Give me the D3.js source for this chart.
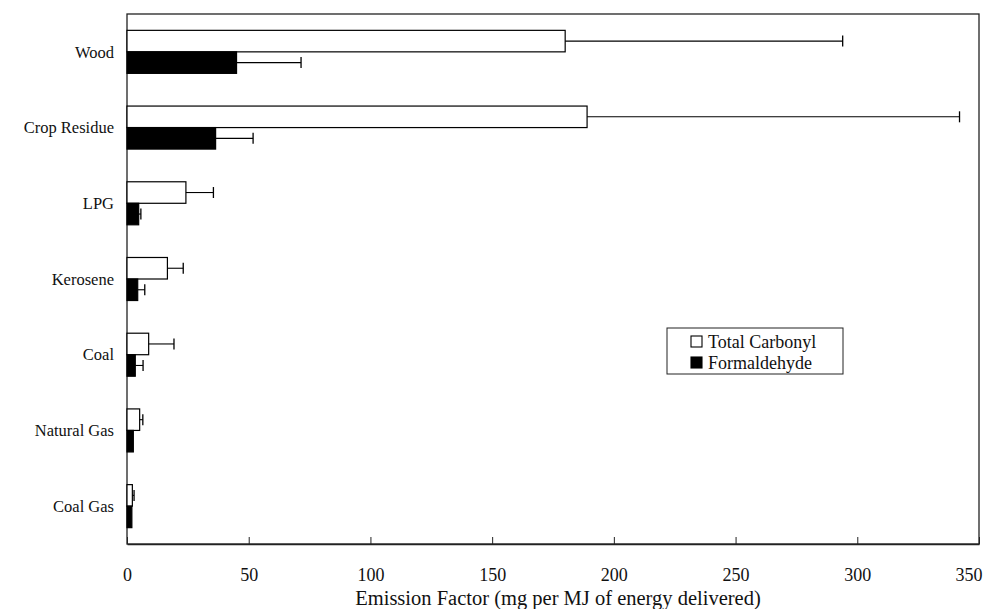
<!DOCTYPE html>
<html>
<head>
<meta charset="utf-8">
<script src="https://cdn.jsdelivr.net/npm/d3@7"></script>
<style>
  body { margin: 0; background: #fff; }
  text { font-family: "Liberation Serif", "Times New Roman", serif; fill: #111; }
</style>
</head>
<body>
<div id="chart"></div>
<script>
// data
const fuels = ["Wood", "Crop Residue", "LPG", "Kerosene", "Coal", "Natural Gas", "Coal Gas"];
const series = ["Total Carbonyl", "Formaldehyde"];
const totalCarbonyl = [180, 189, 24.2, 16.6, 8.9, 5.2, 2.2];
const totalCarbonylErr = [114, 153, 11.3, 6.5, 10.4, 1.3, 0.7];
const formaldehyde = [45, 36.4, 4.8, 4.4, 3.4, 2.6, 2.0];
const formaldehydeErr = [26.5, 15.4, 0.9, 2.9, 3.2, 0, 0];
const xTicks = [0, 50, 100, 150, 200, 250, 300, 350];

const W = 993, H = 609;
const margin = { top: 14, right: 14, bottom: 65, left: 127 };

const svg = d3.select("#chart").append("svg")
    .attr("width", W)
    .attr("height", H);

const x = d3.scaleLinear()
    .domain([0, 350])
    .range([margin.left, W - margin.right]);

const y0 = d3.scaleBand()
    .domain(fuels)
    .range([margin.top, H - margin.bottom]);

const y1 = d3.scaleBand()
    .domain(series)
    .range([0, y0.bandwidth()])
    .paddingOuter(0.76);

const rows = fuels.map((f, i) => ({
    fuel: f,
    vals: [
        { s: series[0], v: totalCarbonyl[i], e: totalCarbonylErr[i], fill: "#fff" },
        { s: series[1], v: formaldehyde[i], e: formaldehydeErr[i], fill: "#000" }
    ]
}));

// frame
svg.append("rect")
    .attr("x", x(0))
    .attr("y", margin.top)
    .attr("width", x(350) - x(0))
    .attr("height", y0.range()[1] - margin.top)
    .attr("fill", "none")
    .attr("stroke", "#222")
    .attr("stroke-width", 1.3);

// bars
const groups = svg.append("g")
    .selectAll("g")
    .data(rows)
    .join("g")
    .attr("transform", d => `translate(0,${y0(d.fuel)})`);

groups.selectAll("rect")
    .data(d => d.vals)
    .join("rect")
    .attr("x", x(0))
    .attr("y", d => y1(d.s))
    .attr("width", d => x(d.v) - x(0))
    .attr("height", y1.bandwidth())
    .attr("fill", d => d.fill)
    .attr("stroke", "#000")
    .attr("stroke-width", 1.2);

// error bars (one-sided)
const err = groups.selectAll("g.err")
    .data(d => d.vals.filter(v => v.e > 0))
    .join("g")
    .attr("class", "err");

err.append("line")
    .attr("x1", d => x(d.v))
    .attr("x2", d => x(d.v + d.e))
    .attr("y1", d => y1(d.s) + y1.bandwidth() / 2)
    .attr("y2", d => y1(d.s) + y1.bandwidth() / 2)
    .attr("stroke", "#000")
    .attr("stroke-width", 1.1);

err.append("line")
    .attr("x1", d => x(d.v + d.e))
    .attr("x2", d => x(d.v + d.e))
    .attr("y1", d => y1(d.s) + y1.bandwidth() / 2 - 5.5)
    .attr("y2", d => y1(d.s) + y1.bandwidth() / 2 + 5.5)
    .attr("stroke", "#000")
    .attr("stroke-width", 1.3);

// x axis (ticks point inward)
const xAxis = svg.append("g")
    .attr("transform", `translate(0,${y0.range()[1]})`)
    .call(d3.axisBottom(x).tickValues(xTicks).tickSizeInner(-7).tickSizeOuter(0).tickPadding(24));
xAxis.attr("font-family", null).attr("font-size", null);
xAxis.select(".domain").attr("stroke", "#222").attr("stroke-width", 1.3);
xAxis.selectAll(".tick line").attr("stroke", "#222");
xAxis.selectAll("text")
    .style("font-size", "18px");
// last label sits inside the frame edge
xAxis.selectAll(".tick text")
    .filter(d => d === 350)
    .attr("text-anchor", "end")
    .attr("x", 3);

// category labels
svg.append("g")
    .selectAll("text")
    .data(fuels)
    .join("text")
    .attr("x", 114)
    .attr("y", d => y0(d) + y0.bandwidth() / 2)
    .attr("dy", "0.35em")
    .attr("text-anchor", "end")
    .style("font-size", "16.5px")
    .text(d => d);

// axis title
svg.append("text")
    .attr("x", (x(0) + x(350)) / 2 + 5)
    .attr("y", 605)
    .attr("text-anchor", "middle")
    .style("font-size", "20.5px")
    .text("Emission Factor (mg per MJ of energy delivered)");

// legend
const lg = svg.append("g").attr("transform", "translate(667,328)");
lg.append("rect")
    .attr("width", 176)
    .attr("height", 46)
    .attr("fill", "#fff")
    .attr("stroke", "#222")
    .attr("stroke-width", 1);

const li = lg.selectAll("g.item")
    .data(series)
    .join("g")
    .attr("class", "item")
    .attr("transform", (d, i) => `translate(24,${14 + i * 21})`);

li.append("rect")
    .attr("x", 0)
    .attr("y", -6)
    .attr("width", 11)
    .attr("height", 11)
    .attr("fill", (d, i) => i === 0 ? "#fff" : "#000")
    .attr("stroke", "#000")
    .attr("stroke-width", 1.1);

li.append("text")
    .attr("x", 17)
    .attr("y", 0)
    .attr("dy", "0.35em")
    .style("font-size", "18px")
    .text(d => d);
</script>
</body>
</html>
